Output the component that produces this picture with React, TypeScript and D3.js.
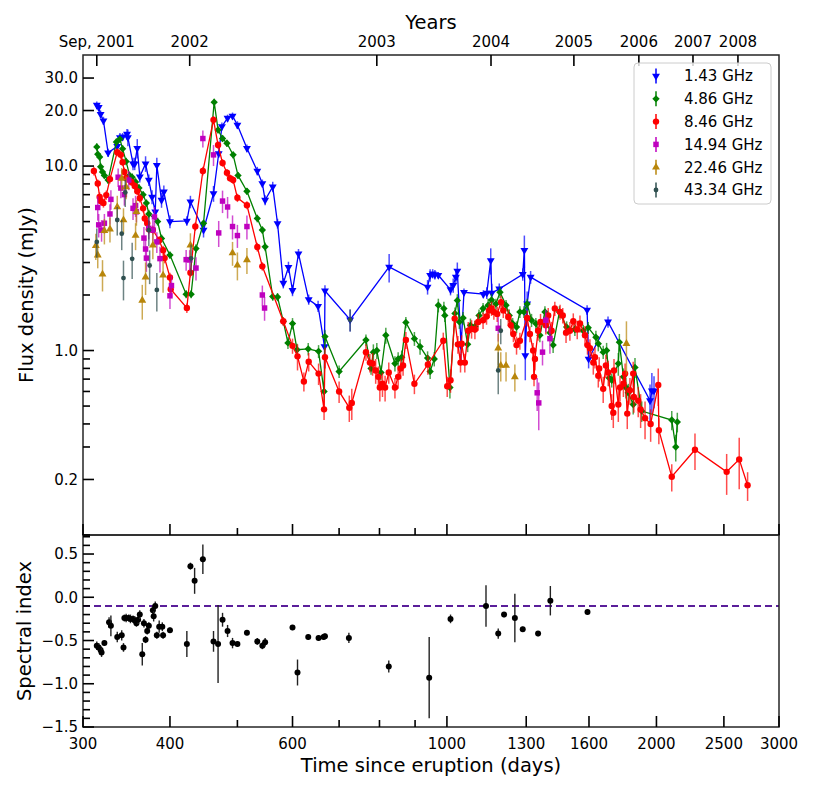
import * as d3 from 'd3';

// [day since eruption, value, error]
type Pt = [number, number, number];

const f143: Pt[] = [
  [314, 21.4, 1.0], [316, 20.8, 1.0], [318, 19.1, 0.9], [321, 17.6, 0.9], [326, 11.8, 0.6],
  [336, 12.8, 0.6], [339, 14.3, 0.8], [342, 14.4, 0.7], [347, 14.9, 1.0], [348, 14.3, 1.5],
  [354, 10.3, 0.8], [356, 10.3, 0.8], [359, 12.5, 1.5], [362, 8.75, 0.6], [369, 10.3, 1.0],
  [373, 8.4, 0.6], [377, 6.8, 0.6], [381, 5.65, 0.5], [383, 10.1, 1.0], [389, 6.54, 0.6],
  [392, 7.25, 0.6], [400, 5.0, 0.4], [423, 5.04, 0.3], [428, 6.4, 0.5], [447, 4.5, 0.4],
  [462, 7.1, 0.7], [470, 11.7, 0.6], [475, 16.4, 0.8], [484, 18.2, 0.8], [492, 18.7, 0.8],
  [500, 16.7, 0.8], [516, 12.5, 0.6], [534, 9.4, 0.5], [543, 8.05, 0.4], [548, 6.54, 0.4],
  [562, 7.72, 0.5], [571, 4.88, 0.3], [582, 2.32, 0.15], [592, 2.83, 0.2], [600, 2.12, 0.15],
  [612, 3.35, 0.2], [633, 1.89, 0.12], [653, 1.74, 0.12], [667, 1.05, 0.25], [668, 2.11, 0.15],
  [726, 1.47, 0.2], [826, 2.84, 0.5], [938, 2.21, 0.2], [946, 2.56, 0.2], [954, 2.61, 0.15],
  [961, 2.58, 0.15], [972, 2.56, 0.1], [1012, 2.14, 0.15], [1021, 2.26, 0.2], [1030, 2.5, 0.2],
  [1035, 2.7, 0.3], [1048, 1.06, 0.2], [1058, 2.07, 0.1], [1128, 2.02, 0.1], [1141, 2.05, 0.15],
  [1156, 3.08, 0.5], [1160, 2.05, 0.25], [1189, 2.16, 0.15], [1285, 2.59, 0.2], [1292, 3.5, 0.7],
  [1296, 0.94, 0.25], [1304, 1.79, 0.3], [1319, 2.5, 0.2], [1590, 1.66, 0.1], [1598, 0.9, 0.1],
  [1704, 1.43, 0.1], [1958, 0.535, 0.12], [1970, 0.606, 0.15], [1984, 0.606, 0.12],
];

const f486: Pt[] = [
  [314, 12.7, 0.6], [315, 11.6, 0.5], [317, 11.2, 0.5], [318, 9.9, 0.5], [320, 9.3, 0.4],
  [322, 8.9, 0.4], [326, 8.4, 0.4], [335, 13.5, 0.6], [339, 14.0, 0.6], [342, 12.4, 0.6],
  [346, 10.6, 0.5], [350, 8.9, 0.4], [353, 8.7, 0.4], [357, 8.2, 0.4], [361, 7.6, 0.4],
  [366, 7.0, 0.3], [370, 6.3, 0.3], [373, 5.5, 0.3], [384, 5.0, 0.25], [389, 4.05, 0.2],
  [400, 3.29, 0.15], [422, 2.02, 0.1], [429, 2.02, 0.1], [436, 3.57, 0.2], [447, 4.9, 0.2],
  [463, 22.2, 1.0], [469, 15.7, 0.7], [476, 14.1, 0.6], [483, 13.3, 0.6], [493, 11.5, 0.5],
  [501, 8.9, 0.4], [516, 7.3, 0.3], [534, 5.2, 0.25], [543, 4.5, 0.2], [548, 3.65, 0.2],
  [562, 1.96, 0.1], [571, 1.95, 0.1], [582, 1.44, 0.07], [591, 1.1, 0.08], [600, 1.4, 0.1],
  [609, 1.01, 0.08], [632, 1.02, 0.08], [654, 0.99, 0.08], [666, 0.6, 0.06], [668, 1.19, 0.1],
  [700, 0.77, 0.06], [765, 1.14, 0.08], [778, 0.8, 0.06], [784, 0.98, 0.1], [793, 1.0, 0.1],
  [804, 0.76, 0.07], [817, 1.21, 0.12], [842, 0.85, 0.08], [851, 0.9, 0.08], [861, 0.92, 0.08],
  [873, 1.42, 0.1], [898, 1.16, 0.1], [915, 1.05, 0.1], [938, 0.91, 0.08], [946, 0.77, 0.07],
  [959, 0.9, 0.08], [972, 1.76, 0.15], [990, 1.69, 0.15], [993, 1.55, 0.12], [1010, 0.63, 0.08],
  [1027, 1.59, 0.12], [1035, 1.87, 0.15], [1042, 1.43, 0.12], [1055, 1.5, 0.12], [1071, 1.08, 0.1],
  [1081, 1.37, 0.12], [1097, 1.35, 0.1], [1112, 1.55, 0.12], [1127, 1.69, 0.12], [1146, 1.76, 0.15],
  [1159, 1.88, 0.15], [1176, 1.79, 0.12], [1192, 2.07, 0.15], [1216, 1.76, 0.12], [1229, 1.55, 0.12],
  [1243, 1.4, 0.1], [1259, 1.34, 0.1], [1273, 1.62, 0.12], [1290, 1.62, 0.12], [1304, 1.79, 0.12],
  [1323, 1.46, 0.12], [1342, 1.4, 0.1], [1360, 1.21, 0.1], [1383, 1.62, 0.12], [1406, 1.25, 0.1],
  [1421, 1.07, 0.1], [1451, 1.62, 0.12], [1486, 1.34, 0.1], [1527, 1.3, 0.1], [1570, 1.28, 0.1],
  [1596, 1.33, 0.1], [1637, 1.18, 0.1], [1650, 1.09, 0.1], [1677, 0.98, 0.08], [1696, 1.0, 0.1],
  [1711, 0.71, 0.07], [1725, 0.69, 0.06], [1763, 0.85, 0.12], [1769, 1.11, 0.12], [1793, 0.72, 0.08],
  [1808, 0.63, 0.08], [1822, 0.59, 0.07], [1852, 0.51, 0.06], [1863, 0.81, 0.1], [1905, 0.47, 0.06],
  [2104, 0.42, 0.05], [2132, 0.3, 0.05], [2143, 0.41, 0.05],
];

const f846: Pt[] = [
  [311, 9.4, 0.5], [315, 8.05, 0.4], [317, 6.8, 0.4], [318, 6.46, 0.35], [321, 6.3, 0.35],
  [324, 6.96, 0.4], [328, 8.5, 0.45], [336, 11.9, 0.6], [340, 11.5, 0.6], [342, 10.5, 0.5],
  [344, 9.3, 0.5], [346, 8.6, 0.45], [352, 8.2, 0.4], [356, 7.8, 0.4], [359, 7.3, 0.35],
  [362, 6.7, 0.35], [366, 5.9, 0.3], [368, 5.2, 0.3], [371, 4.9, 0.25], [373, 4.55, 0.25],
  [378, 4.5, 0.25], [386, 3.96, 0.2], [391, 3.5, 0.2], [393, 3.17, 0.2], [400, 2.49, 0.15],
  [401, 2.15, 0.15], [423, 1.7, 0.1], [428, 2.64, 0.15], [435, 4.7, 0.25], [446, 9.4, 0.5],
  [462, 17.8, 0.9], [469, 13.0, 0.6], [476, 10.4, 0.5], [483, 9.2, 0.45], [488, 8.6, 0.4],
  [493, 8.4, 0.4], [500, 6.73, 0.35], [516, 6.14, 0.3], [534, 3.64, 0.2], [543, 2.86, 0.15],
  [582, 1.44, 0.08], [600, 1.06, 0.1], [610, 0.93, 0.15], [623, 0.68, 0.08], [633, 0.87, 0.1],
  [654, 0.75, 0.1], [666, 0.48, 0.06], [668, 0.92, 0.12], [700, 0.6, 0.08], [724, 0.49, 0.08],
  [730, 0.52, 0.1], [765, 0.98, 0.1], [775, 0.86, 0.1], [782, 0.85, 0.12], [790, 0.78, 0.12],
  [797, 0.72, 0.1], [801, 0.63, 0.1], [808, 0.66, 0.1], [815, 0.63, 0.1], [825, 0.76, 0.1],
  [842, 0.63, 0.08], [851, 0.72, 0.1], [858, 0.8, 0.1], [865, 0.83, 0.1], [873, 1.14, 0.12],
  [898, 0.66, 0.08], [939, 0.84, 0.1], [988, 1.13, 0.12], [1001, 0.64, 0.08], [1012, 0.69, 0.1],
  [1026, 1.49, 0.15], [1037, 1.08, 0.12], [1046, 0.86, 0.1], [1050, 1.09, 0.12], [1061, 0.86, 0.1],
  [1073, 1.28, 0.15], [1085, 1.31, 0.15], [1097, 1.3, 0.15], [1109, 1.43, 0.15], [1127, 1.46, 0.15],
  [1140, 1.53, 0.15], [1150, 1.65, 0.15], [1159, 1.69, 0.15], [1168, 1.62, 0.15], [1181, 1.58, 0.15],
  [1196, 1.83, 0.15], [1205, 1.65, 0.15], [1225, 1.52, 0.15], [1235, 1.37, 0.15], [1246, 1.23, 0.12],
  [1259, 1.07, 0.12], [1273, 1.13, 0.12], [1304, 1.5, 0.15], [1316, 1.23, 0.12], [1330, 1.0, 0.1],
  [1334, 0.72, 0.08], [1338, 0.9, 0.12], [1352, 1.28, 0.15], [1363, 1.43, 0.15], [1387, 1.37, 0.15],
  [1398, 1.55, 0.15], [1414, 1.28, 0.15], [1429, 1.69, 0.15], [1454, 1.62, 0.15], [1467, 1.55, 0.15],
  [1483, 1.25, 0.15], [1502, 1.28, 0.15], [1519, 1.44, 0.15], [1539, 1.3, 0.15], [1553, 1.4, 0.15],
  [1579, 1.21, 0.15], [1592, 1.07, 0.12], [1605, 1.03, 0.12], [1623, 0.86, 0.12], [1632, 0.92, 0.12],
  [1650, 0.73, 0.1], [1655, 0.8, 0.12], [1677, 0.62, 0.1], [1692, 0.83, 0.12], [1705, 0.76, 0.12],
  [1725, 0.5, 0.08], [1734, 0.46, 0.08], [1738, 0.78, 0.12], [1763, 0.51, 0.1], [1773, 0.63, 0.1],
  [1793, 0.66, 0.1], [1803, 0.75, 0.1], [1816, 0.455, 0.08], [1832, 0.61, 0.1], [1852, 0.75, 0.12],
  [1856, 0.56, 0.1], [1883, 0.535, 0.1], [1898, 0.48, 0.1], [1926, 0.43, 0.1], [1962, 0.4, 0.08],
  [2012, 0.65, 0.15], [2016, 0.37, 0.06], [2104, 0.207, 0.035], [2272, 0.29, 0.065], [2523, 0.22, 0.055],
  [2630, 0.257, 0.08], [2704, 0.186, 0.033],
];

const f1494: Pt[] = [
  [315, 5.96, 0.9], [316, 4.8, 0.7], [319, 4.49, 0.6], [322, 4.9, 0.6], [328, 5.5, 0.7],
  [329, 6.6, 0.8], [337, 8.7, 1.0], [340, 7.6, 0.9], [344, 7.0, 0.9], [349, 8.4, 1.0],
  [354, 5.9, 0.8], [357, 6.1, 0.8], [358, 5.65, 0.7], [367, 4.07, 0.6], [369, 3.55, 0.5],
  [370, 3.17, 0.5], [373, 4.6, 0.6], [378, 4.5, 0.6], [380, 5.3, 0.7], [383, 3.88, 0.5],
  [387, 3.15, 0.5], [400, 1.98, 0.3], [402, 2.25, 0.3], [422, 3.11, 0.4], [427, 3.1, 0.4],
  [436, 2.8, 0.4], [446, 14.1, 1.5], [462, 11.5, 1.5], [470, 4.34, 0.7], [476, 6.46, 0.9],
  [484, 6.0, 0.8], [492, 4.7, 0.7], [500, 4.2, 0.6], [516, 4.7, 0.7], [543, 2.0, 0.25],
  [547, 1.7, 0.25], [1185, 1.32, 0.2], [1348, 0.59, 0.12], [1355, 0.52, 0.15], [1372, 0.98, 0.15],
  [1387, 1.46, 0.2], [1406, 1.16, 0.2],
];

const f2246: Pt[] = [
  [313, 3.7, 0.6], [315, 3.29, 0.5], [320, 2.59, 0.5], [322, 4.46, 0.7], [328, 4.55, 0.7],
  [336, 6.0, 0.9], [341, 8.56, 1.2], [343, 5.1, 0.8], [346, 7.7, 1.1], [357, 4.2, 0.7],
  [358, 5.65, 0.9], [365, 1.87, 0.4], [369, 2.5, 0.5], [378, 3.72, 0.6], [391, 2.56, 0.5],
  [428, 3.72, 0.6], [492, 3.38, 0.5], [500, 2.9, 0.5], [516, 3.1, 0.5], [1185, 1.03, 0.2],
  [1195, 0.83, 0.15], [1216, 0.83, 0.15], [1252, 0.72, 0.12], [1811, 1.09, 0.35],
];

const f4334: Pt[] = [
  [314, 3.88, 0.7], [336, 5.1, 0.9], [341, 4.3, 0.8], [343, 2.47, 0.6], [345, 7.2, 1.2],
  [353, 3.14, 0.7], [373, 4.49, 0.8], [374, 2.89, 0.6], [383, 2.13, 0.5], [429, 3.16, 0.6],
  [726, 1.47, 0.2], [1185, 0.78, 0.2], [1195, 1.28, 0.2],
];

const spIndex: Pt[] = [
  [314, -0.56, 0.05], [316, -0.58, 0.05], [318, -0.61, 0.04], [319, -0.64, 0.05], [322, -0.53, 0.03],
  [327, -0.29, 0.06], [329, -0.33, 0.12], [336, -0.46, 0.06], [341, -0.44, 0.06], [343, -0.58, 0.05],
  [344, -0.24, 0.04], [346, -0.24, 0.05], [349, -0.24, 0.04], [351, -0.25, 0.05], [354, -0.25, 0.04],
  [356, -0.27, 0.05], [358, -0.3, 0.04], [360, -0.26, 0.05], [362, -0.2, 0.05], [365, -0.66, 0.13],
  [367, -0.3, 0.05], [369, -0.49, 0.04], [371, -0.39, 0.04], [373, -0.33, 0.04], [378, -0.15, 0.05],
  [379, -0.22, 0.06], [381, -0.1, 0.05], [383, -0.44, 0.04], [386, -0.34, 0.07], [390, -0.34, 0.05],
  [391, -0.44, 0.04], [400, -0.38, 0.03], [423, -0.54, 0.15], [428, 0.36, 0.04], [434, 0.19, 0.15],
  [446, 0.44, 0.17], [462, -0.51, 0.12], [469, -0.54, 0.45], [476, -0.26, 0.08], [484, -0.39, 0.07],
  [492, -0.53, 0.06], [500, -0.54, 0.03], [516, -0.41, 0.03], [534, -0.51, 0.04], [543, -0.56, 0.04],
  [548, -0.52, 0.05], [600, -0.35, 0.03], [610, -0.87, 0.15], [632, -0.46, 0.03], [654, -0.47, 0.03],
  [665, -0.46, 0.03], [668, -0.45, 0.03], [723, -0.47, 0.06], [825, -0.8, 0.07], [943, -0.93, 0.47],
  [1012, -0.25, 0.05], [1138, -0.1, 0.24], [1185, -0.42, 0.06], [1208, -0.2, 0.03], [1252, -0.24, 0.28],
  [1285, -0.37, 0.03], [1352, -0.42, 0.03], [1408, -0.04, 0.17], [1592, -0.17, 0.03],
];

const freqLabels = ['1.43 GHz', '4.86 GHz', '8.46 GHz', '14.94 GHz', '22.46 GHz', '43.34 GHz'];
const yearDays = [314, 427, 793, 1157, 1522, 1887, 2257, 2619];
const yearLabels = ['Sep, 2001', '2002', '2003', '2004', '2005', '2006', '2007', '2008'];
const dayTicks = [300, 400, 600, 1000, 1300, 1600, 2000, 2500, 3000];
const dayMinor = [500, 700, 800, 900];
const fluxTicks = [0.2, 1, 10, 20, 30];
const fluxMinor = [0.1, 0.3, 0.4, 0.5, 0.6, 0.7, 0.8, 0.9, 2, 3, 4, 5, 6, 7, 8, 9];
const alphaTicks = [-1.5, -1, -0.5, 0, 0.5];
const alphaRef = -0.1;

const L = 83, R = 779, T1 = 55, B1 = 535, B2 = 727;
const x = d3.scaleLog().domain([300, 3000]).range([L, R]);
const yF = d3.scaleLog().domain([0.1, 40]).range([B1, T1]);
const yA = d3.scaleLinear().domain([-1.5, 0.72]).range([B2, B1]);

type Shape = 'v' | 'D' | 'o' | 's' | '^' | 'h';
const series: { data: Pt[]; color: string; shape: Shape; joined: boolean }[] = [
  { data: f143, color: '#0000ff', shape: 'v', joined: true },
  { data: f486, color: '#008000', shape: 'D', joined: true },
  { data: f846, color: '#ff0000', shape: 'o', joined: true },
  { data: f1494, color: '#bf00bf', shape: 's', joined: false },
  { data: f2246, color: '#b8860b', shape: '^', joined: false },
  { data: f4334, color: '#2f4f4f', shape: 'h', joined: false },
];

const tri = d3.symbol(d3.symbolTriangle, 27)() || '';
const sq = d3.symbol(d3.symbolSquare, 27)() || '';
const sqS = d3.symbol(d3.symbolSquare, 30)() || '';

function Marker({ shape, cx, cy, color }: { shape: Shape; cx: number; cy: number; color: string }) {
  const t = `translate(${cx},${cy})`;
  if (shape === 'v') return <path d={tri} transform={`${t} rotate(180)`} fill={color} />;
  if (shape === '^') return <path d={tri} transform={t} fill={color} />;
  if (shape === 'D') return <path d={sq} transform={`${t} rotate(45)`} fill={color} />;
  if (shape === 's') return <path d={sqS} transform={t} fill={color} />;
  if (shape === 'o') return <circle cx={cx} cy={cy} r={3.2} fill={color} />;
  return <circle cx={cx} cy={cy} r={2.4} fill={color} />;
}

const fmtAlpha = (v: number) => (v < 0 ? '\u2212' : '') + Math.abs(v).toFixed(1);

export default function App() {
  const line = d3
    .line<Pt>()
    .x((d) => x(d[0]))
    .y((d) => yF(d[1]));

  const spine = '#262626';
  const tw = 1.6;

  return (
    <svg
      width={814}
      height={793}
      viewBox="0 0 814 793"
      style={{ position: 'absolute', left: 0, top: 0 }}
      fontFamily="'DejaVu Sans', sans-serif"
    >
      <rect width={814} height={793} fill="#fff" />

      {/* flux density panel */}
      {series.map((s, i) => (
        <g key={i}>
          {s.data.map((d, j) => (
            <line
              key={j}
              x1={x(d[0])}
              x2={x(d[0])}
              y1={yF(Math.max(d[1] - d[2], 0.101))}
              y2={yF(d[1] + d[2])}
              stroke={s.color}
              strokeOpacity={0.7}
              strokeWidth={1.5}
            />
          ))}
          {s.joined && <path d={line(s.data) || ''} fill="none" stroke={s.color} strokeWidth={1.3} />}
          {s.data.map((d, j) => (
            <Marker key={j} shape={s.shape} cx={x(d[0])} cy={yF(d[1])} color={s.color} />
          ))}
        </g>
      ))}

      {/* spectral index panel */}
      <line x1={L} x2={R} y1={yA(alphaRef)} y2={yA(alphaRef)} stroke="#5a1e9a" strokeWidth={2} strokeDasharray="7,4" />
      {spIndex.map((d, j) => (
        <g key={j}>
          <line x1={x(d[0])} x2={x(d[0])} y1={yA(d[1] - d[2])} y2={yA(d[1] + d[2])} stroke="#222" strokeWidth={1.4} />
          <circle cx={x(d[0])} cy={yA(d[1])} r={3} fill="#000" />
        </g>
      ))}

      {/* frames */}
      <rect x={L} y={T1} width={R - L} height={B1 - T1} fill="none" stroke={spine} strokeWidth={1.5} />
      <rect x={L} y={B1} width={R - L} height={B2 - B1} fill="none" stroke={spine} strokeWidth={1.5} />

      {/* top years axis */}
      {yearDays.map((d, i) => (
        <g key={i}>
          <line x1={x(d)} x2={x(d)} y1={T1} y2={T1 + 11} stroke="#000" strokeWidth={tw} />
          <text x={x(d)} y={47} fontSize={15} textAnchor="middle" fill="#000">
            {yearLabels[i]}
          </text>
        </g>
      ))}
      <text x={(L + R) / 2} y={29} fontSize={19.5} textAnchor="middle">
        Years
      </text>

      {/* x ticks: upper panel bottom and lower panel bottom */}
      {dayTicks.map((d) => (
        <g key={d}>
          <line x1={x(d)} x2={x(d)} y1={B1} y2={B1 - 11} stroke="#000" strokeWidth={tw} />
          <line x1={x(d)} x2={x(d)} y1={B2} y2={B2 - 11} stroke="#000" strokeWidth={tw} />
          <text x={x(d)} y={749} fontSize={15} textAnchor="middle">
            {d}
          </text>
        </g>
      ))}
      {dayMinor.map((d) => (
        <g key={d}>
          <line x1={x(d)} x2={x(d)} y1={B1} y2={B1 - 7} stroke="#000" strokeWidth={tw} />
          <line x1={x(d)} x2={x(d)} y1={B2} y2={B2 - 7} stroke="#000" strokeWidth={tw} />
        </g>
      ))}

      {/* flux y ticks */}
      {fluxTicks.map((v) => (
        <g key={v}>
          <line x1={L} x2={L + 11} y1={yF(v)} y2={yF(v)} stroke="#000" strokeWidth={tw} />
          <text x={78} y={yF(v) + 5.4} fontSize={15} textAnchor="end">
            {v.toFixed(1)}
          </text>
        </g>
      ))}
      {fluxMinor.map((v) => (
        <line key={v} x1={L} x2={L + 7} y1={yF(v)} y2={yF(v)} stroke="#000" strokeWidth={tw} />
      ))}

      {/* spectral index y ticks */}
      {alphaTicks.map((v) => (
        <g key={v}>
          <line x1={L} x2={L + 11} y1={yA(v)} y2={yA(v)} stroke="#000" strokeWidth={tw} />
          <text x={78} y={yA(v) + 5.4} fontSize={15} textAnchor="end">
            {fmtAlpha(v)}
          </text>
        </g>
      ))}
      {d3.range(-14, 8).filter((k) => k % 5 !== 0).map((k) => (
        <line key={k} x1={L} x2={L + 7} y1={yA(k / 10)} y2={yA(k / 10)} stroke="#000" strokeWidth={tw} />
      ))}

      {/* axis titles */}
      <text x={(L + R) / 2} y={772} fontSize={19.5} textAnchor="middle">
        Time since eruption (days)
      </text>
      <text transform={`translate(32.5,${(T1 + B1) / 2}) rotate(-90)`} fontSize={19.5} textAnchor="middle">
        Flux density (mJy)
      </text>
      <text transform={`translate(31,${(B1 + B2) / 2}) rotate(-90)`} fontSize={19.5} textAnchor="middle">
        Spectral index
      </text>

      {/* legend */}
      <rect x={634} y={63} width={137} height={141} rx={4} fill="#fff" fillOpacity={0.8} stroke="#cccccc" strokeWidth={1} />
      {series.map((s, i) => {
        const cy = 76 + i * 22.8;
        return (
          <g key={i}>
            <line x1={656} x2={656} y1={cy - 7.5} y2={cy + 7.5} stroke={s.color} strokeWidth={1.5} />
            <Marker shape={s.shape} cx={656} cy={cy} color={s.color} />
            <text x={684} y={cy + 5.4} fontSize={15}>
              {freqLabels[i]}
            </text>
          </g>
        );
      })}
    </svg>
  );
}
